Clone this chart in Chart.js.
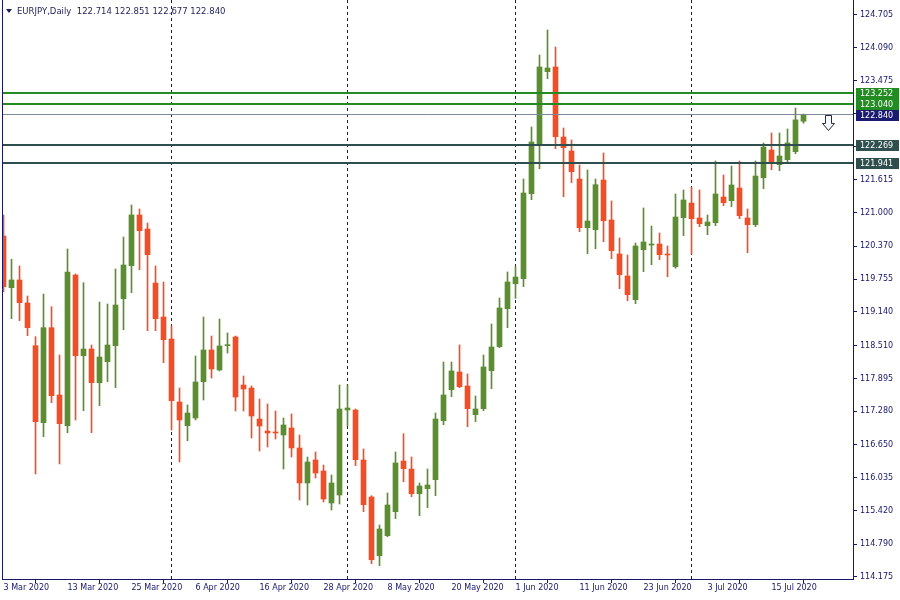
<!DOCTYPE html>
<html><head><meta charset="utf-8">
<script src="https://cdn.jsdelivr.net/npm/chart.js@4"></script>
<style>html,body{margin:0;padding:0;background:#fff;}canvas{display:block;}</style>
</head><body>
<canvas id="c" width="900" height="600"></canvas>
<script>
// ---------------- DATA ----------------
const symbolTitle = 'EURJPY,Daily';
const openP = [120.564,119.595,119.740,119.309,118.509,117.066,118.846,117.585,117.010,119.833,
118.321,118.447,117.815,118.209,118.509,119.389,120.008,120.958,120.695,119.683,
119.046,118.634,117.454,117.010,117.154,117.834,118.428,118.053,118.509,118.672,
117.772,117.716,117.135,116.910,116.892,116.835,116.967,116.592,115.936,116.367,
116.161,115.561,115.711,117.304,117.304,116.367,115.674,114.574,114.949,115.398,
116.348,116.198,115.736,115.829,115.998,117.103,117.684,118.016,117.754,117.216,
117.328,118.040,118.490,119.202,119.670,119.764,121.357,122.264,123.643,123.731,
122.419,122.157,121.632,120.720,120.682,121.613,120.864,120.227,119.815,119.371,
120.307,120.395,120.414,120.227,119.989,120.907,121.182,120.901,120.757,120.813,
121.295,121.226,121.463,120.901,120.776,121.656,122.175,121.900,121.994,122.144,
122.714];
const highP = [120.958,120.128,120.002,119.440,118.677,119.477,119.239,118.334,120.320,119.852,
119.689,118.522,119.327,119.290,119.946,120.545,121.145,121.070,120.808,120.002,
119.702,118.878,117.716,117.398,118.316,119.046,118.690,119.009,118.747,118.690,
117.941,117.754,117.510,117.416,117.285,117.154,117.229,116.835,116.423,116.517,
116.273,116.086,117.772,117.772,117.323,116.573,115.698,115.149,115.749,116.517,
116.860,116.423,115.936,116.198,117.248,118.203,118.203,118.522,117.978,117.566,
118.334,118.915,119.402,119.890,119.989,121.632,122.606,123.955,124.424,124.105,
122.588,122.363,121.894,121.801,121.632,122.119,121.220,120.527,120.208,120.433,
121.089,120.751,120.620,120.377,121.351,121.426,121.477,121.426,120.958,121.969,
121.707,121.876,121.969,121.070,121.969,122.307,122.494,122.494,122.569,122.962,
122.851];
const lowP = [119.520,119.015,118.977,118.696,116.105,116.804,117.441,116.292,116.879,117.117,
117.291,116.879,117.384,117.834,117.722,118.808,119.502,119.933,118.790,118.790,
118.190,116.929,116.330,116.729,117.117,117.491,117.903,118.035,118.372,117.285,
117.285,116.779,116.536,116.611,116.760,116.198,116.423,115.617,115.524,116.030,
115.580,115.430,115.543,117.004,116.260,115.398,114.424,114.387,114.930,115.267,
115.960,115.679,115.323,115.473,115.698,117.028,117.553,117.722,116.991,117.085,
117.291,117.703,118.471,118.846,119.397,119.614,121.244,121.825,123.511,122.200,
121.300,121.563,120.645,120.232,120.326,120.457,120.139,119.577,119.352,119.296,
119.895,120.026,120.120,119.801,119.960,120.570,120.227,120.738,120.588,120.757,
121.132,121.113,120.888,120.251,120.738,121.450,121.806,121.788,121.919,122.106,
122.677];
const closeP = [119.614,119.740,119.314,118.846,117.085,118.846,117.572,117.047,119.890,118.321,
118.447,117.815,118.297,118.522,119.271,120.021,120.958,120.663,120.214,119.015,
118.621,117.478,117.117,117.248,117.829,118.428,118.072,118.503,118.527,117.547,
117.697,117.191,117.004,116.873,116.873,117.023,116.592,115.936,116.330,116.123,
115.636,115.936,117.323,117.341,116.373,115.530,114.499,115.074,115.524,116.311,
116.204,115.736,115.880,115.899,117.135,117.585,118.035,117.740,117.328,117.323,
118.110,118.484,119.215,119.702,119.796,121.370,122.325,123.731,123.712,122.425,
122.219,121.769,120.720,120.845,121.525,120.851,120.289,119.839,119.464,120.377,
120.452,120.414,120.214,120.208,120.920,121.239,120.888,120.795,120.826,121.351,
121.188,121.520,120.944,120.776,121.688,122.232,121.956,122.063,122.307,122.740,
122.840];
const tickIndex = [0,8,16,24,32,40,48,56,64,72,80,88,96];
const tickLabels = ['3 Mar 2020','13 Mar 2020','25 Mar 2020','6 Apr 2020','16 Apr 2020','28 Apr 2020',
  '8 May 2020','20 May 2020','1 Jun 2020','11 Jun 2020','23 Jun 2020','3 Jul 2020','15 Jul 2020'];
const separatorIndex = [21,43,64,86];
const priceTicks = [124.705,124.090,123.475,122.860,122.245,121.615,121.000,120.370,119.755,
  119.140,118.510,117.895,117.280,116.650,116.035,115.420,114.790,114.175];
const levelPrices = [123.252,123.040,122.269,121.941];
const bidPrice = 122.840;
const arrowIndex = 103;
const arrowPrice = 122.840;

// ---------------- STYLE ----------------
const NAVY = '#16166a';
const BULL = '#5b8e2e';
const BEAR = '#f24d25';
const FONT = {family: 'DejaVu Sans', size: 8};
const levelColors = ['#228b22','#228b22','#2f4f4f','#2f4f4f'];
const fmt = v => v.toFixed(3);

const idx = closeP.map((_, i) => i);
const candleColor = idx.map(i => closeP[i] >= openP[i] ? BULL : BEAR);

const overlay = {
  id: 'overlay',
  beforeDatasetsDraw(chart) {
    const {ctx, chartArea: a, scales: {x}} = chart;
    ctx.save();
    ctx.strokeStyle = NAVY; ctx.lineWidth = 1; ctx.setLineDash([3, 3]);
    separatorIndex.forEach(i => {
      const px = Math.floor(x.getPixelForValue(i)) + 0.5;
      ctx.beginPath(); ctx.moveTo(px, a.top); ctx.lineTo(px, a.bottom); ctx.stroke();
    });
    ctx.restore();
  },
  afterDatasetsDraw(chart) {
    const {ctx, chartArea: a, scales: {x, y}} = chart;
    ctx.save();
    levelPrices.forEach((p, k) => {
      const py = Math.round(y.getPixelForValue(p));
      ctx.fillStyle = levelColors[k];
      ctx.fillRect(a.left, py - 1, a.right - a.left, 2);
    });
    const by = Math.floor(y.getPixelForValue(bidPrice)) + 0.5;
    ctx.strokeStyle = '#7d8a99'; ctx.lineWidth = 1;
    ctx.beginPath(); ctx.moveTo(a.left, by); ctx.lineTo(a.right, by); ctx.stroke();
    // sell arrow
    const cx = Math.round(x.getPixelForValue(arrowIndex)) + 0.5;
    const ty = Math.round(y.getPixelForValue(arrowPrice)) + 0.5;
    ctx.beginPath();
    ctx.moveTo(cx - 3, ty); ctx.lineTo(cx + 3, ty); ctx.lineTo(cx + 3, ty + 8);
    ctx.lineTo(cx + 6, ty + 8); ctx.lineTo(cx, ty + 15); ctx.lineTo(cx - 6, ty + 8);
    ctx.lineTo(cx - 3, ty + 8); ctx.closePath();
    ctx.fillStyle = '#f4f8ff'; ctx.fill();
    ctx.strokeStyle = '#2a2a38'; ctx.stroke();
    ctx.restore();
  },
  afterDraw(chart) {
    const {ctx, chartArea: a, scales: {y}} = chart;
    ctx.save();
    // left frame
    ctx.strokeStyle = NAVY; ctx.lineWidth = 1;
    ctx.beginPath(); ctx.moveTo(a.left + 0.5, 0); ctx.lineTo(a.left + 0.5, a.bottom); ctx.stroke();
    // price label boxes
    ctx.font = '8px "DejaVu Sans"'; ctx.textBaseline = 'middle'; ctx.textAlign = 'left';
    const boxes = levelPrices.map((p, k) => ({p, c: levelColors[k]}));
    boxes.push({p: bidPrice, c: '#1a1a72'});
    boxes.forEach(b => {
      const py = Math.round(y.getPixelForValue(b.p));
      ctx.fillStyle = b.c;
      ctx.fillRect(a.right + 3, py - 5, 43, 11);
      ctx.fillStyle = '#ffffff';
      ctx.fillText(fmt(b.p), a.right + 7, py + 0.5);
    });
    // title
    const L = closeP.length - 1;
    ctx.fillStyle = '#1e1e5a';
    ctx.beginPath(); ctx.moveTo(6, 9); ctx.lineTo(12, 9); ctx.lineTo(9, 13); ctx.closePath(); ctx.fill();
    ctx.font = '8.5px "DejaVu Sans"';
    ctx.fillText(symbolTitle + '  ' + [openP[L], highP[L], lowP[L], closeP[L]].map(fmt).join(' '), 17, 11.5);
    ctx.restore();
  }
};

new Chart(document.getElementById('c'), {
  type: 'bar',
  data: {
    datasets: [
      {
        data: idx.map(i => ({x: i, y: [openP[i], closeP[i]]})),
        backgroundColor: candleColor, borderWidth: 0, barThickness: 5, minBarLength: 1, grouped: false
      },
      {
        data: idx.map(i => ({x: i, y: [lowP[i], highP[i]]})),
        backgroundColor: candleColor, borderWidth: 0, barThickness: 1, grouped: false
      }
    ]
  },
  options: {
    responsive: false,
    animation: false,
    events: [],
    layout: {padding: {left: 2, top: 0, right: 0, bottom: 0}},
    plugins: {legend: {display: false}, tooltip: {enabled: false}, title: {display: false}},
    scales: {
      x: {
        type: 'linear', position: 'bottom', min: -0.1875, max: 106.1875, offset: false,
        afterBuildTicks: s => { s.ticks = tickIndex.map(v => ({value: v})); },
        afterFit: s => { s.height = 21; s.paddingLeft = 0; s.paddingRight = 0; },
        ticks: {
          autoSkip: false, maxRotation: 0, align: 'start', padding: 0, color: NAVY, font: FONT,
          callback: v => tickLabels[tickIndex.indexOf(v)]
        },
        grid: {drawOnChartArea: false, drawTicks: true, tickLength: 4, color: NAVY},
        border: {color: NAVY, width: 1}
      },
      y: {
        type: 'linear', position: 'right', min: 114.137, max: 124.986,
        afterBuildTicks: s => { s.ticks = priceTicks.map(v => ({value: v})); },
        afterFit: s => { s.width = 47; s.paddingTop = 0; s.paddingBottom = 0; },
        ticks: {autoSkip: false, padding: 3, color: NAVY, font: FONT, callback: v => fmt(v)},
        grid: {drawOnChartArea: false, drawTicks: true, tickLength: 4, color: NAVY},
        border: {color: NAVY, width: 1}
      }
    }
  },
  plugins: [overlay]
});
</script>
</body></html>
